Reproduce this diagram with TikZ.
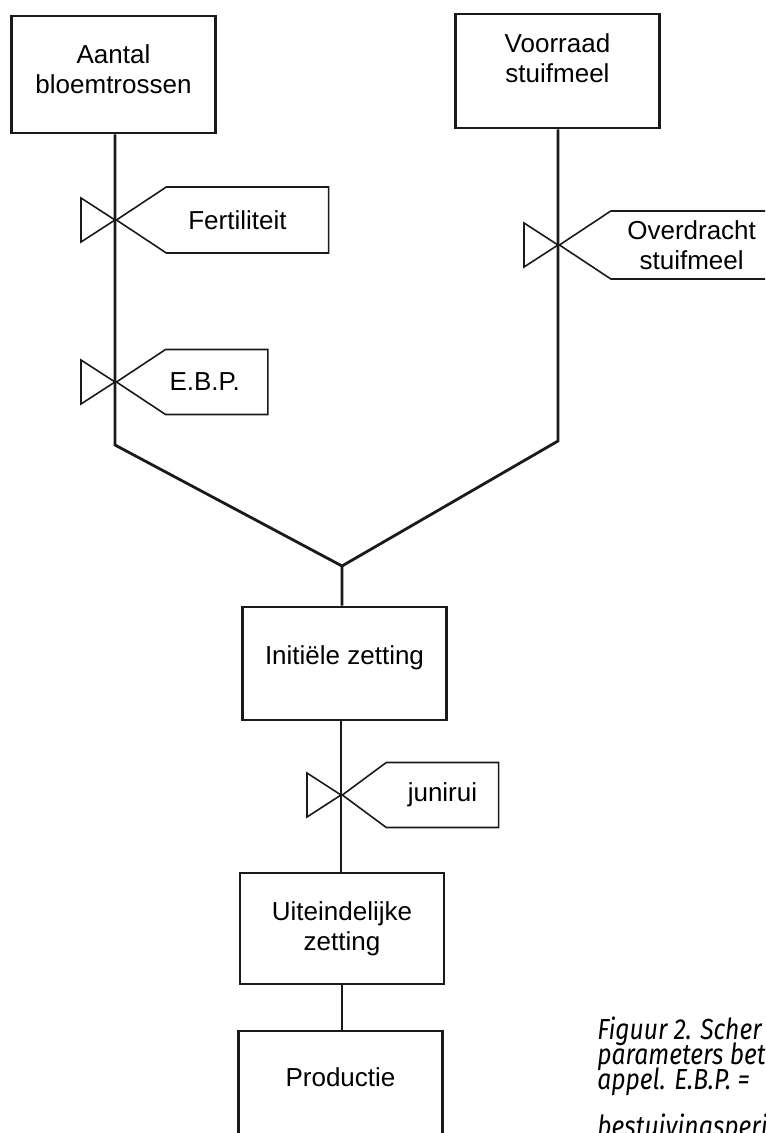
\documentclass[tikz,border=0pt]{standalone}
\usepackage{fontspec}
\setmainfont{Liberation Sans}
\newfontfamily\capfont[FakeStretch=0.85]{Fira Sans}
\usetikzlibrary{shapes}
\definecolor{fgInk}{HTML}{1A1A1A}
\tikzset{
  blok/.style={draw=fgInk, line width=1.4pt, minimum width=102pt, minimum height=57pt, inner sep=2pt, align=center, font=\fontsize{13}{15}\selectfont},
  pijp/.style={draw=fgInk, line width=1.4pt},
  klep/.style={draw=fgInk, line width=0.8pt},
  vlag/.style={klep, signal, signal to=west, signal pointer angle=67, minimum height=33pt, inner ysep=2pt, anchor=west, align=center, font=\fontsize{13}{15}\selectfont},
  regel/.style={anchor=base west, inner sep=0pt, font=\capfont\itshape\fontsize{14.5}{12.5}\selectfont},
  pics/valve/.style={code={\draw[klep] (0,0) -- (-34,-22) -- (-34,22) -- cycle;}},
}

\begin{document}
\begin{tikzpicture}[x=0.5pt,y=-0.5pt]
  \clip (0,0) rectangle (765,1133);
  % boxes
  \node[blok, minimum height=58.5pt, text depth=5.5pt] (aantal) at (113.5,74.5) {Aantal\\bloemtrossen};
  \node[blok, text depth=13pt] (voorraad) at (557.5,71) {Voorraad\\stuifmeel};
  \node[blok, minimum height=56.5pt, text depth=8pt] (init) at (344.5,663.5) {Initiële zetting};
  \node[blok, minimum height=55.5pt] (uit) at (342,928.5) {Uiteindelijke\\zetting};
  \node[blok, text depth=11pt] (prod) at (340.5,1088) {Productie};

  % valves and bends
  \coordinate (vFert) at (115,220);
  \coordinate (vEbp) at (115,382);
  \coordinate (knikL) at (115,445);
  \coordinate (samen) at (342,566);
  \coordinate (vOver) at (558,245);
  \coordinate (knikR) at (558,441);
  \coordinate (vJuni) at (341,795);

  % pipes
  \draw[pijp] (aantal.south -| vFert) -- (vFert) -- (vEbp) -- (knikL) -- (samen) -- (init.north -| samen);
  \draw[pijp] (voorraad.south -| vOver) -- (vOver) -- (knikR) -- (samen);
  \draw[pijp] (init.south -| vJuni) -- (vJuni) -- (uit.north -| vJuni);
  \draw[pijp] (uit.south) -- (uit.south |- prod.north);

  % valve symbols with flags
  \pic at (vFert) {valve};
  \node[vlag, inner xsep=11pt] (fert) at (vFert) {Fertiliteit\hspace*{10pt}};
  \pic at (vEbp) {valve};
  \node[vlag, inner xsep=2pt, minimum height=32.5pt] (ebp) at (vEbp) {E.B.P.\hspace*{12pt}};
  \pic at (vOver) {valve};
  \node[vlag, inner xsep=8.25pt, minimum height=34pt] (over) at (vOver) {Overdracht\\stuifmeel};
  \pic at (vJuni) {valve};
  \node[vlag, inner xsep=10.75pt, minimum height=32.5pt, signal pointer angle=73] (juni) at (vJuni) {junirui};

  % caption
  \node[regel] (onderschrift1) at (597,1039) {Figuur 2. Scher};
  \node[regel] (onderschrift2) at (597,1064) {parameters bet};
  \node[regel] (onderschrift3) at (597,1089) {appel. E.B.P. =};
  \node[regel] (onderschrift4) at (597,1136) {bestuivingsperi};
\end{tikzpicture}
\end{document}
